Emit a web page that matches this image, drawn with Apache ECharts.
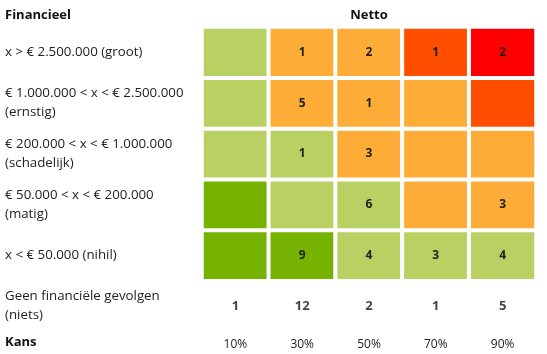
<!DOCTYPE html>
<html>
<head>
<meta charset="utf-8">
<script src="https://cdn.jsdelivr.net/npm/echarts@6/dist/echarts.min.js"></script>
<style>
  html, body { margin: 0; padding: 0; background: #fff; }
  #chart { width: 547px; height: 354px; }
</style>
</head>
<body>
<div id="chart"></div>
<script>
// kolommen (kans) en rijen (financieel), onder naar boven
var kansLabels = ['10%', '30%', '50%', '70%', '90%'];
var rijLabels = [
  'Geen financiële gevolgen\n(niets)',
  'x < € 50.000 (nihil)',
  '€ 50.000 < x < € 200.000\n(matig)',
  '€ 200.000 < x < € 1.000.000\n(schadelijk)',
  '€ 1.000.000 < x < € 2.500.000\n(ernstig)',
  'x > € 2.500.000 (groot)'
];
// risico niveau per cel: 0 donkergroen, 1 lichtgroen, 2 oranje, 3 roodoranje, 4 rood
var niveauNihil      = [0, 0, 1, 1, 1];
var niveauMatig      = [0, 1, 1, 2, 2];
var niveauSchadelijk = [1, 1, 2, 2, 2];
var niveauErnstig    = [1, 2, 2, 2, 3];
var niveauGroot      = [1, 2, 2, 3, 4];
// aantallen per cel (null = leeg)
var aantalNihil      = [null, 9, 4, 3, 4];
var aantalMatig      = [null, null, 6, null, 3];
var aantalSchadelijk = [null, 1, 3, null, null];
var aantalErnstig    = [null, 5, 1, null, null];
var aantalGroot      = [null, 1, 2, 1, 2];
var aantalNiets      = [1, 12, 2, 1, 5];

var niveauKleuren = ['#76b300', '#b9d162', '#fdac38', '#ff4e00', '#ff0000'];

var niveaus = [niveauNihil, niveauMatig, niveauSchadelijk, niveauErnstig, niveauGroot];
var aantallen = [aantalNihil, aantalMatig, aantalSchadelijk, aantalErnstig, aantalGroot];

var heatData = [];
for (var r = 0; r < niveaus.length; r++) {
  for (var c = 0; c < kansLabels.length; c++) {
    heatData.push([c, r + 1, niveaus[r][c], aantallen[r][c]]);
  }
}
var nietsData = aantalNiets.map(function (v, i) { return [i, 0, v]; });

var font = '"Open Sans", sans-serif';
var kopStijl = { fontSize: 13, fontWeight: 'bold', color: '#111', fontFamily: font };
var chart = echarts.init(document.getElementById('chart'));
chart.setOption({
  animation: false,
  textStyle: { fontFamily: font },
  title: [
    { text: 'Financieel', left: 5, top: 9, padding: 0, textStyle: kopStijl },
    { text: 'Netto', left: 369, top: 9, padding: 0, textAlign: 'center', textStyle: kopStijl },
    { text: 'Kans', left: 5, top: 336, padding: 0, textStyle: kopStijl }
  ],
  grid: { left: 202, width: 334, top: 27, height: 304.5 },
  xAxis: {
    type: 'category',
    data: kansLabels,
    axisLine: { show: false },
    axisTick: { show: false },
    splitLine: { show: false },
    axisLabel: { color: '#222', fontSize: 12, margin: 7, fontFamily: font }
  },
  yAxis: {
    type: 'category',
    data: rijLabels,
    axisLine: { show: false },
    axisTick: { show: false },
    splitLine: { show: false },
    axisLabel: { color: '#222', fontSize: 13.3, lineHeight: 19, align: 'left', margin: 197, fontFamily: font }
  },
  visualMap: {
    type: 'piecewise',
    show: false,
    dimension: 2,
    seriesIndex: 0,
    pieces: niveauKleuren.map(function (k, i) { return { value: i, color: k }; })
  },
  series: [
    {
      type: 'heatmap',
      data: heatData,
      itemStyle: { borderColor: '#fff', borderWidth: 4 },
      label: {
        show: true,
        color: '#222',
        fontWeight: 'bold',
        fontSize: 12,
        fontFamily: font,
        formatter: function (p) { return p.data[3] == null ? '' : p.data[3]; }
      },
      emphasis: { disabled: true }
    },
    {
      type: 'scatter',
      data: nietsData,
      symbolSize: 0,
      label: {
        show: true,
        position: 'inside',
        color: '#111',
        fontWeight: 'bold',
        fontSize: 13,
        fontFamily: font,
        formatter: function (p) { return p.data[2]; }
      }
    }
  ]
});
</script>
</body>
</html>
